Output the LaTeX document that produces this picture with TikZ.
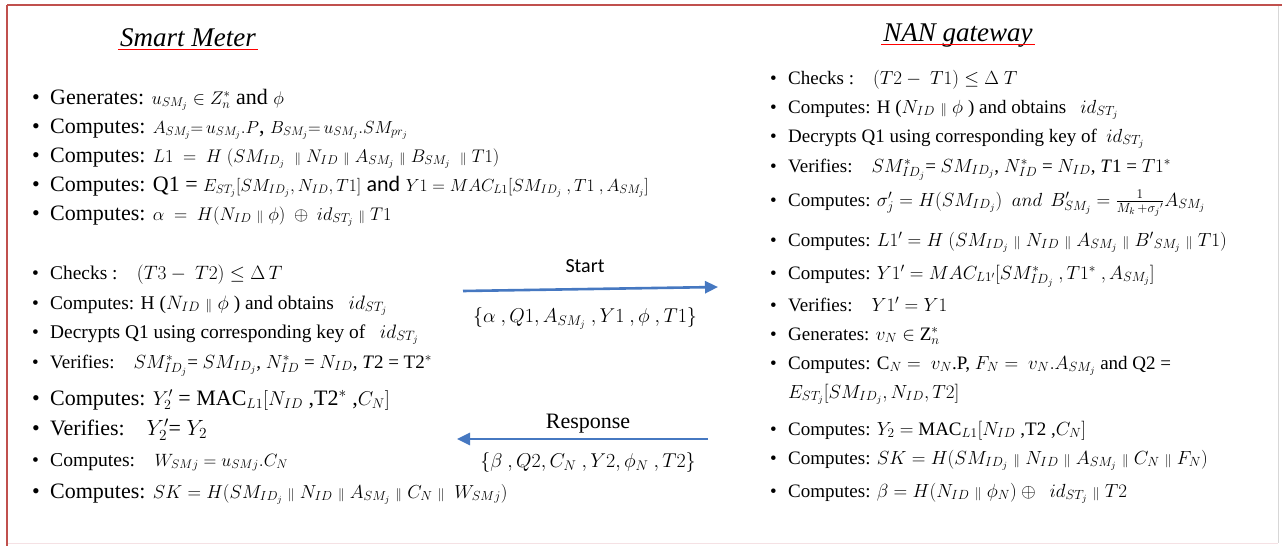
\RequirePackage{fix-cm}
\documentclass[tikz,border=0pt]{standalone}
\usepackage{fontspec}
\setmainfont{Liberation Serif}
\newfontfamily\calibri{Carlito}
\usetikzlibrary{arrows.meta,calc}
\definecolor{framered}{RGB}{192,80,77}
\definecolor{arrowblue}{RGB}{70,120,193}
\definecolor{framegray}{RGB}{215,215,215}
\definecolor{framepink}{RGB}{245,225,228}
\newcommand\bl{\makebox[18pt][l]{\textbullet}}
\newcommand\pp{\mathrel{\scriptstyle\parallel}}
\newcommand\mth[1]{{\fontsize{18.3}{22}\selectfont$#1$}}
\newcommand\mta[1]{{\fontsize{17.5}{22}\selectfont$#1$}}
\newcommand\mtb[1]{{\fontsize{18.8}{22}\selectfont$#1$}}
\newcommand\mtc[1]{{\fontsize{17.8}{22}\selectfont$#1$}}
\tikzset{
  ln/.style={anchor=base west, inner sep=0pt, font=\fontsize{19}{23}\selectfont},
  lnl/.style={ln, font=\fontsize{19.4}{23}\selectfont},
  lnb/.style={ln, font=\fontsize{22}{26}\selectfont},
  lnm/.style={ln, font=\fontsize{19.6}{24}\selectfont},
  ttl/.style={anchor=base, inner sep=0pt, font=\fontsize{27}{30}\selectfont\itshape},
  uline/.style={draw=red, line width=1pt},
  msg/.style={draw=arrowblue, line width=2.6pt, -{Triangle[length=13pt,width=12pt]}},
  lbl/.style={anchor=base, inner sep=0pt, font=\fontsize{20}{24}\selectfont},
}
\begin{document}
\begin{tikzpicture}[x=1pt,y=-1pt]
\useasboundingbox (0,0) rectangle (1282,546);
\fill[white] (0,0) rectangle (1282,546);
% frame
\draw[framegray, line width=1pt] (1278,5) -- (1278,543);
\draw[framepink, line width=1pt] (7,543) -- (1278,543);
\draw[framered, line width=1.6pt] (7,5) -- (1282,5);
\draw[framered, line width=1.6pt] (7,5) -- (7,546);
% titles
\node[ttl] (tsm) at (188,46) {Smart Meter};
\draw[uline] ($(tsm.base west)+(-2,3)$) -- ($(tsm.base east)+(2,3)$);
\node[ttl] (tnan) at (958,41) {NAN gateway};
\draw[uline] ($(tnan.base west)+(-2,3)$) -- ($(tnan.base east)+(2,3)$);
% Smart meter, first block
\node[lnb] (l1) at (32,104) {\bl Generates: \mth{u_{SM_j}\in Z_n^*} and \mth{\phi}};
\node[lnb] (l2) at (32,133) {\bl Computes: \mta{A_{SM_j}{=}\,u_{SM_j}.P}, \mta{B_{SM_j}{=}\,u_{SM_j}.SM_{pr_j}}};
\node[lnb] (l3) at (32,162) {\bl Computes: \mth{L1\ =\ H\ (SM_{ID_j}\ \pp N_{ID}\pp A_{SM_j}\pp B_{SM_j}\ \pp T1)}};
\node[lnb] (l4) at (32,191) {\bl Computes: Q1 = \mta{E_{ST_j}[SM_{ID_j},N_{ID},T1]} {\calibri and} \mta{Y1=MAC_{L1}[SM_{ID_j}\ ,T1\ ,A_{SM_j}]}};
\node[lnb] (l5) at (32,220) {\bl Computes: \mth{\alpha\ =\ H(N_{ID}\pp\phi)\ \oplus\ id_{ST_j}\pp T1}};
% Smart meter, second block
\node[lnl] (l6) at (32,279) {\bl Checks :\quad $(T3-\ T2)\le\Delta\,T$};
\node[lnl] (l7) at (32,309) {\bl Computes: H ($N_{ID}\pp\phi$ ) and obtains \ \ $id_{ST_j}$};
\node[lnl] (l8) at (32,338) {\bl Decrypts Q1 using corresponding key of \ \ $id_{ST_j}$};
\node[ln] (l9) at (32,368) {\bl Verifies:\quad $SM^*_{ID_j}$= $SM_{ID_j}$, $N^*_{ID}$ = $N_{ID}$, \textit{T}2 = T2$^*$};
\node[lnb] (l10) at (32,405) {\bl Computes: {\fontsize{20}{24}\selectfont$Y_2'$} = MAC{\fontsize{20}{24}\selectfont$_{L1}[N_{ID}$} ,T2$^*$ ,{\fontsize{20}{24}\selectfont$C_N]$}};
\node[lnb] (l11) at (32,435) {\bl Verifies:\quad $Y_2'$= $Y_2$};
\node[lnm] (l12) at (32,466) {\bl Computes:\quad \mtc{W_{SMj}=u_{SMj}.C_N}};
\node[lnb] (l13) at (32,498) {\bl Computes: \mtb{SK=H(SM_{ID_j}\pp N_{ID}\pp A_{SM_j}\pp C_N\pp\ W_{SMj})}};
% NAN gateway
\node[ln] (r1) at (770,84) {\bl Checks :\quad $(T2-\ T1)\le\Delta\ T$};
\node[ln] (r2) at (770,113) {\bl Computes: H ($N_{ID}\pp\phi$ ) and obtains \ \ $id_{ST_j}$};
\node[ln] (r3) at (770,142) {\bl Decrypts Q1 using corresponding key of \ $id_{ST_j}$};
\node[ln] (r4) at (770,172) {\bl Verifies:\quad $SM^*_{ID_j}$= $SM_{ID_j}$, $N^*_{ID}$ = $N_{ID}$, \textit{T}1 = $T1^*$};
\node[ln] (r5) at (770,206) {\bl Computes: $\sigma_j'=H(SM_{ID_j})\ \ and\ \,B'_{SM_j}=\frac{1}{M_k\,+\sigma_j{}'}A_{SM_j}$};
\node[ln] (r6) at (770,246) {\bl Computes: $L1'=H\ (SM_{ID_j}\pp N_{ID}\pp A_{SM_j}\pp B'{}_{SM_j}\pp T1)$};
\node[ln] (r7) at (770,279) {\bl Computes: $Y1'=MAC_{L1'}[SM^*_{ID_j}\ ,T1^*\ ,A_{SM_j}]$};
\node[ln] (r8) at (770,311) {\bl Verifies:\quad $Y1'=Y1$};
\node[ln] (r9) at (770,340) {\bl Generates: $v_N\in$ Z$_n^*$};
\node[ln] (r10) at (770,369) {\bl Computes: C$_N=\ v_N$.P, $F_N=\ v_N.A_{SM_j}$ and Q2 =};
\node[ln] (r10b) at (788,398) {$E_{ST_j}[SM_{ID_j},N_{ID},T2]$};
\node[ln] (r11) at (770,435) {\bl Computes: $Y_2=$ MAC$_{L1}[N_{ID}$ ,T2 ,$C_N]$};
\node[ln] (r12) at (770,464) {\bl Computes: $SK=H(SM_{ID_j}\pp N_{ID}\pp A_{SM_j}\pp C_N\pp F_N)$};
\node[ln] (r13) at (770,497) {\bl Computes: $\beta=H(N_{ID}\pp\phi_N)\oplus\ \ id_{ST_j}\pp T2$};
% messages
\coordinate (s1) at (463,291);
\coordinate (s2) at (718,287);
\draw[msg] (s1) -- (s2);
\node[lbl, font=\fontsize{20}{24}\selectfont\calibri] (start) at (585,272) {Start};
\node[lbl] (m1) at (585,322) {$\{\alpha\ ,Q1,A_{SM_j}\ ,Y1\ ,\phi\ ,T1\}$};
\coordinate (e1) at (708,439);
\coordinate (e2) at (457,439);
\draw[msg] (e1) -- (e2);
\node[lbl, font=\fontsize{22}{26}\selectfont] (resp) at (588,428) {Response};
\node[lbl] (m2) at (588,467) {$\{\beta\ ,Q2,C_N\ ,Y2,\phi_N\ ,T2\}$};
\end{tikzpicture}
\end{document}
